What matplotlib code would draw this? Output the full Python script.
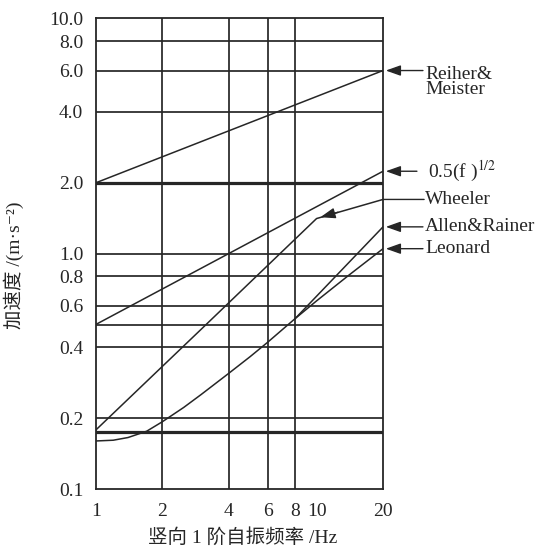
import matplotlib
matplotlib.use('Agg')
import matplotlib.pyplot as plt

# 字体：西文用 Times 风格，上标符号用 DejaVu Serif，中文回退到 Noto Sans CJK
plt.rcParams['font.family'] = ['Liberation Serif', 'DejaVu Serif', 'Noto Sans CJK SC']
plt.rcParams['mathtext.fontset'] = 'stix'

# ---- 数据----
reiher_f = [1, 20]
reiher_a = [2.0, 6.0]

half_f = [1, 20]
half_a = [0.5, 2.24]

wheeler_f = [1, 3, 10, 20]
wheeler_a = [0.178, 0.477, 1.41, 1.70]

allen_f = [8, 20]
allen_a = [0.53, 1.30]

leonard_f = [1, 1.2, 1.4, 1.7, 2, 2.5, 3, 4, 5, 6, 8, 10, 14, 20]
leonard_a = [0.16, 0.1612, 0.1655, 0.176, 0.193, 0.222, 0.252, 0.31, 0.365, 0.42, 0.53, 0.63, 0.81, 1.05]

# 两条粗的水平限值线
limit_levels = [2.0, 0.175]

# 网格与刻度
grid_x = [2, 4, 6, 8]
grid_y = [0.2, 0.4, 0.5, 0.6, 0.8, 1.0, 2.0, 4.0, 6.0, 8.0]
x_ticks = [1, 2, 4, 6, 8, 10, 20]
x_tick_labels = ['1', '2', '4', '6', '8', '10', '20']
y_ticks = [0.1, 0.2, 0.4, 0.6, 0.8, 1.0, 2.0, 4.0, 6.0, 8.0, 10.0]
y_tick_labels = ['0.1', '0.2', '0.4', '0.6', '0.8', '1.0', '2.0', '4.0', '6.0', '8.0', '10.0']

# 右侧标注
labels = ['Reiher&\nMeister', '0.5(f )$^{1/2}$', 'Wheeler', 'Allen&Rainer', 'Leonard']
label_a = [6.0, 2.24, 1.70, 1.30, 1.05]

ink = '#262626'

fig = plt.figure(figsize=(5.41, 5.47), dpi=100)
ax = fig.add_axes([0.177, 0.106, 0.531, 0.8605])
ax.set_xscale('log')
ax.set_yscale('log')
ax.set_xlim(1, 20)
ax.set_ylim(0.1, 10)

for v in grid_x:
    ax.axvline(v, color=ink, lw=1.25, zorder=1)
for h in grid_y:
    ax.axhline(h, color=ink, lw=1.25, zorder=1)
for h in limit_levels:
    ax.axhline(h, color=ink, lw=2.3, zorder=2)

# 曲线
for f, a in [(reiher_f, reiher_a), (half_f, half_a), (wheeler_f, wheeler_a),
             (allen_f, allen_a), (leonard_f, leonard_a)]:
    ax.plot(f, a, color=ink, lw=1.1, zorder=3)

# Wheeler 曲线上的箭头
ax.annotate('', xy=(10.4, 1.428), xytext=(12.5, 1.50),
            arrowprops=dict(arrowstyle='-|>,head_length=0.9,head_width=0.32',
                            color=ink, lw=1.0, shrinkA=0, shrinkB=0))

# 刻度
ax.set_xticks(x_ticks)
ax.set_xticklabels(x_tick_labels)
ax.set_yticks(y_ticks)
ax.set_yticklabels(y_tick_labels)
ax.minorticks_off()
ax.tick_params(axis='both', length=0, labelsize=14, colors=ink)
ax.tick_params(axis='x', pad=10)
ax.tick_params(axis='y', pad=9)
for s in ax.spines.values():
    s.set_color(ink)
    s.set_linewidth(1.3)

# 右侧文字和箭头
for i, (lab, a) in enumerate(zip(labels, label_a)):
    if lab == 'Wheeler':
        style = '-'
        start = 1.143
    elif i == 1:
        style = '-|>,head_length=0.9,head_width=0.32'
        start = 1.118
    else:
        style = '-|>,head_length=0.9,head_width=0.32'
        start = 1.139
    ax.annotate('', xy=(20, a), xycoords='data',
                xytext=(start, a), textcoords=('axes fraction', 'data'),
                arrowprops=dict(arrowstyle=style, color=ink, lw=1.0,
                                shrinkA=0, shrinkB=-2 if style != '-' else 0),
                annotation_clip=False)
    tx = 1.157 if i == 1 else 1.146
    if i == 0:
        ax.text(tx, 5.37, lab, transform=ax.get_yaxis_transform(),
                ha='left', va='center', fontsize=14, color=ink, linespacing=0.9)
    else:
        ax.text(tx, a, lab, transform=ax.get_yaxis_transform(),
                ha='left', va='center', fontsize=14, color=ink)

ax.set_xlabel('竖向 1 阶自振频率 /Hz', fontsize=14, color=ink)
ax.xaxis.set_label_coords(0.51, -0.083)
ax.set_ylabel('加速度 /(m·s⁻²)', fontsize=14, color=ink)
ax.yaxis.set_label_coords(-0.25, 0.475)

fig.savefig('out.png', dpi=100)
